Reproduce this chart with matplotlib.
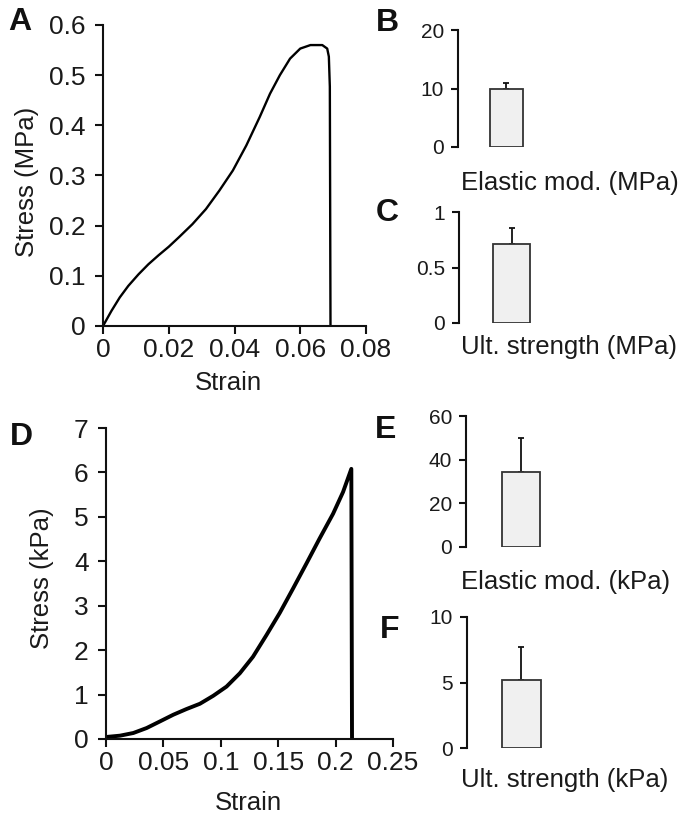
import numpy as np
import matplotlib.pyplot as plt
from matplotlib.ticker import FuncFormatter

plt.rcParams['font.family'] = ['Liberation Sans', 'DejaVu Sans']

# Panel A: stress-strain curve (MPa)
strain_a = [0, 0.00256, 0.0051, 0.0077, 0.0108, 0.0138, 0.0169, 0.020, 0.0231, 0.0272,
            0.0313, 0.0354, 0.0395, 0.0436, 0.0477, 0.0508, 0.0538, 0.0569, 0.060,
            0.0631, 0.0667, 0.0682, 0.0687, 0.0690, 0.0692]
stress_a = [0, 0.030, 0.057, 0.080, 0.103, 0.123, 0.141, 0.158, 0.177, 0.203,
            0.233, 0.270, 0.310, 0.360, 0.417, 0.463, 0.500, 0.533, 0.553,
            0.560, 0.560, 0.553, 0.537, 0.477, 0.0]

# Panel D: stress-strain curve (kPa)
strain_d = [0, 0.0122, 0.0238, 0.0354, 0.047, 0.0586, 0.070, 0.0818, 0.0934, 0.105,
            0.1166, 0.128, 0.1398, 0.1514, 0.163, 0.1746, 0.186, 0.1978, 0.2065,
            0.2137, 0.2143]
stress_d = [0.045, 0.075, 0.135, 0.247, 0.396, 0.546, 0.673, 0.793, 0.972, 1.18,
            1.48, 1.85, 2.34, 2.84, 3.39, 3.95, 4.51, 5.07, 5.56,
            6.08, 0.0]

# Bar panels: mean and upper error
bar_labels = ['Elastic mod. (MPa)', 'Ult. strength (MPa)',
              'Elastic mod. (kPa)', 'Ult. strength (kPa)']
bar_means = [10.0, 0.71, 34.5, 5.2]
bar_errs = [1.0, 0.145, 15.3, 2.5]
bar_yticks = [[0, 10, 20], [0, 0.5, 1], [0, 20, 40, 60], [0, 5, 10]]

TXT = '#1a1a1a'
W, H = 692.0, 819.0
fmt = FuncFormatter(lambda v, p: '{:g}'.format(round(v, 4)))

fig = plt.figure(figsize=(6.92, 8.19), dpi=100)


def style_axes(ax, size):
    for s in ['top', 'right']:
        ax.spines[s].set_visible(False)
    for s in ['left', 'bottom']:
        ax.spines[s].set_linewidth(1.5)
        ax.spines[s].set_color('#111111')
    ax.tick_params(direction='out', length=5.5, width=1.5, labelsize=size,
                   colors='#111111', labelcolor=TXT)
    ax.tick_params(axis='x', pad=3)
    ax.tick_params(axis='y', pad=7)


def put_label(lab, x, y, **kw):
    # place an axis label by its centre, in figure pixels
    lab.set_position((x / W, 1 - y / H))
    lab.set_transform(fig.transFigure)
    lab.set_verticalalignment('center')
    lab.set(**kw)


# A
ax_a = fig.add_axes([103 / W, 1 - 326 / H, 263 / W, 301 / H])
ax_a.plot(strain_a, stress_a, color='black', lw=1.7)
ax_a.set_xlim(0, 0.08)
ax_a.set_ylim(0, 0.6)
ax_a.set_xticks(np.arange(0, 0.081, 0.02))
ax_a.set_yticks(np.arange(0, 0.61, 0.1))
ax_a.xaxis.set_major_formatter(fmt)
ax_a.yaxis.set_major_formatter(fmt)
style_axes(ax_a, 19)
ax_a.set_xlabel('Strain', fontsize=18.5, color=TXT)
ax_a.set_ylabel('Stress (MPa)', fontsize=18.5, color=TXT)
ax_a.xaxis.set_label_coords(228 / W, 1 - 383 / H, transform=fig.transFigure)
ax_a.yaxis.set_label_coords(27 / W, 1 - 182 / H, transform=fig.transFigure)
ax_a.xaxis.label.set_verticalalignment('center')
ax_a.yaxis.label.set_verticalalignment('center')

# D
ax_d = fig.add_axes([106 / W, 1 - 739 / H, 287 / W, 311 / H])
ax_d.plot(strain_d, stress_d, color='black', lw=2.8)
ax_d.set_xlim(0, 0.25)
ax_d.set_ylim(0, 7)
ax_d.set_xticks(np.arange(0, 0.251, 0.05))
ax_d.set_yticks(range(0, 8))
ax_d.xaxis.set_major_formatter(fmt)
style_axes(ax_d, 19)
ax_d.set_xlabel('Strain', fontsize=18.5, color=TXT)
ax_d.set_ylabel('Stress (kPa)', fontsize=18.5, color=TXT)
ax_d.xaxis.set_label_coords(248 / W, 1 - 803 / H, transform=fig.transFigure)
ax_d.yaxis.set_label_coords(42 / W, 1 - 578 / H, transform=fig.transFigure)
ax_d.xaxis.label.set_verticalalignment('center')
ax_d.yaxis.label.set_verticalalignment('center')

# B, C, E, F  (axes in pixels: left, top, bottom)
bar_boxes = [(458, 30, 147), (459, 212, 323), (466, 416, 547), (467, 617, 748)]
bar_xlims = [(-0.88, 3.23), (-0.86, 2.80), (-0.85, 2.52), (-0.84, 2.52)]
bar_widths = [0.6, 0.6, 0.6, 0.6]
label_y = [183, 347, 582, 780]
for i in range(4):
    left, top, bottom = bar_boxes[i]
    ax = fig.add_axes([left / W, 1 - bottom / H, (684 - left) / W, (bottom - top) / H])
    ax.bar([0], [bar_means[i]], width=bar_widths[i], color='#f0f0f0',
           edgecolor='#333333', linewidth=1.3, zorder=2)
    ax.errorbar([0], [bar_means[i]], yerr=[[0], [bar_errs[i]]], fmt='none',
                ecolor='#111111', elinewidth=1.3, capsize=2, capthick=1.3, zorder=1)
    ax.set_xlim(*bar_xlims[i])
    ax.set_ylim(bar_yticks[i][0], bar_yticks[i][-1])
    ax.set_yticks(bar_yticks[i])
    ax.yaxis.set_major_formatter(fmt)
    style_axes(ax, 15)
    ax.spines['bottom'].set_visible(False)
    ax.set_xticks([])
    ax.tick_params(axis='y', length=5, pad=5)
    ax.set_xlabel(bar_labels[i], fontsize=18.5, color=TXT, ha='left')
    ax.xaxis.set_label_coords(461 / W, 1 - label_y[i] / H, transform=fig.transFigure)
    ax.xaxis.label.set_verticalalignment('center')

# panel letters
letters = ['A', 'B', 'C', 'D', 'E', 'F']
letter_pos = [(20, 22), (387, 23), (387, 213), (21, 437), (386, 430), (390, 630)]
for t, (x, y) in zip(letters, letter_pos):
    fig.text(x / W, 1 - y / H, t, fontsize=23, fontweight='bold', color='#111111',
             ha='center', va='center')

fig.savefig('out.png', dpi=100)
